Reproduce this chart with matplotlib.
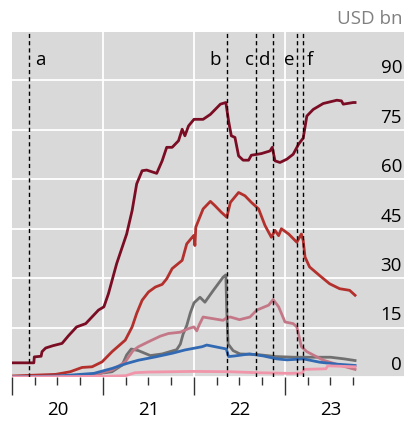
import matplotlib
matplotlib.use("Agg")
import matplotlib.pyplot as plt
import matplotlib.transforms as mtransforms

plt.rcParams['font.family'] = ['Open Sans', 'DejaVu Sans']

# series (x in fractional years, USD bn)
maroon_t = [2020.0, 2020.24, 2020.245, 2020.32, 2020.33, 2020.37, 2020.45, 2020.55, 2020.62, 2020.71,
            2020.81, 2020.95, 2021.01, 2021.06, 2021.15, 2021.26, 2021.32, 2021.37, 2021.43, 2021.48,
            2021.59, 2021.65, 2021.70, 2021.76, 2021.83, 2021.87, 2021.90, 2021.94, 2022.0, 2022.10,
            2022.18, 2022.29, 2022.35, 2022.38, 2022.41, 2022.45, 2022.49, 2022.54, 2022.60, 2022.63,
            2022.74, 2022.835, 2022.86, 2022.89, 2022.945, 2023.02, 2023.09, 2023.15, 2023.20, 2023.24,
            2023.31, 2023.42, 2023.57, 2023.62, 2023.64, 2023.75, 2023.77]
maroon_v = [4.3, 4.3, 6.1, 6.3, 7.7, 8.8, 9.5, 10.2, 12.5, 15.2,
            16.2, 20.3, 21.3, 25.3, 34.4, 43.4, 50.5, 58.6, 62.6, 62.8,
            61.8, 65.6, 69.7, 69.7, 71.7, 75.2, 73.2, 76.2, 78.2, 78.2,
            79.7, 82.8, 83.3, 77.7, 73.2, 72.7, 67.1, 65.8, 65.8, 67.3,
            67.8, 68.6, 69.7, 65.6, 65.1, 66.1, 67.6, 70.7, 72.5, 79.2,
            81.2, 83.0, 84.0, 83.8, 82.8, 83.3, 83.3]

red_t = [2020.0, 2020.48, 2020.64, 2020.77, 2020.88, 2020.99, 2021.10, 2021.245, 2021.32, 2021.37,
         2021.43, 2021.50, 2021.575, 2021.65, 2021.70, 2021.76, 2021.87, 2021.92, 2021.98, 2022.0,
         2022.01, 2022.02, 2022.10, 2022.18, 2022.23, 2022.30, 2022.36, 2022.40, 2022.43, 2022.49,
         2022.56, 2022.63, 2022.71, 2022.78, 2022.85, 2022.89, 2022.93, 2022.96, 2023.04, 2023.13,
         2023.18, 2023.20, 2023.22, 2023.27, 2023.38, 2023.49, 2023.60, 2023.71, 2023.77]
red_v = [0.3, 0.8, 1.6, 2.9, 3.1, 4.6, 7.7, 11.2, 15.2, 19.3,
         23.3, 25.8, 27.3, 28.1, 29.8, 32.9, 35.4, 40.4, 42.4, 43.0,
         39.9, 45.5, 51.0, 53.3, 52.0, 50.0, 48.5, 53.0, 54.0, 56.0,
         55.0, 53.0, 51.0, 46.0, 42.4, 44.5, 42.9, 45.0, 43.4, 40.9,
         43.4, 41.4, 36.4, 33.4, 30.8, 28.3, 26.8, 26.3, 24.8]

grey_t = [2020.0, 2020.7, 2020.9, 2021.10, 2021.21, 2021.26, 2021.31, 2021.39, 2021.52, 2021.65,
          2021.81, 2021.85, 2021.88, 2021.92, 2021.96, 2022.0, 2022.066, 2022.12, 2022.21, 2022.32,
          2022.35, 2022.36, 2022.375, 2022.43, 2022.505, 2022.70, 2022.90, 2023.10, 2023.30, 2023.50,
          2023.65, 2023.77]
grey_v = [0.0, 0.3, 0.8, 1.6, 3.6, 6.7, 8.5, 8.0, 6.5, 7.0,
          8.3, 10.0, 13.0, 15.6, 19.5, 22.5, 24.2, 22.7, 26.2, 30.3,
          31.0, 20.0, 10.0, 8.0, 7.0, 6.8, 6.2, 6.0, 6.0, 6.0,
          5.5, 5.0]

mauve_t = [2020.0, 2020.8, 2020.9, 2021.10, 2021.245, 2021.33, 2021.39, 2021.50, 2021.63, 2021.72,
           2021.85, 2021.94, 2022.0, 2022.03, 2022.06, 2022.10, 2022.21, 2022.32, 2022.36, 2022.40,
           2022.50, 2022.615, 2022.69, 2022.82, 2022.87, 2022.93, 2023.0, 2023.09, 2023.13, 2023.18,
           2023.24, 2023.42, 2023.60, 2023.77]
mauve_v = [0.0, 0.2, 0.6, 2.1, 4.6, 8.0, 9.2, 10.7, 12.4, 13.2,
           13.6, 14.7, 15.2, 14.0, 16.0, 18.2, 17.7, 17.2, 18.0, 18.2,
           17.4, 18.2, 20.3, 21.8, 23.5, 21.3, 16.7, 16.2, 15.2, 9.2,
           7.7, 5.1, 3.6, 2.3]

blue_t = [2020.0, 2020.5, 2020.9, 2021.10, 2021.26, 2021.39, 2021.575, 2021.76, 2021.90, 2022.09,
          2022.14, 2022.32, 2022.355, 2022.38, 2022.45, 2022.61, 2022.76, 2022.91, 2023.02, 2023.2,
          2023.38, 2023.57, 2023.77]
blue_v = [0.0, 0.3, 1.1, 2.6, 4.1, 5.1, 6.1, 7.2, 8.2, 9.2,
          9.7, 8.7, 8.5, 6.2, 6.4, 7.0, 6.4, 5.5, 5.2, 5.5,
          4.5, 3.9, 3.5]

pink_t = [2020.0, 2021.0, 2021.25, 2021.35, 2021.5, 2022.0, 2022.4, 2022.7, 2023.05, 2023.19,
          2023.21, 2023.45, 2023.47, 2023.77]
pink_v = [0.0, 0.2, 0.4, 1.3, 1.5, 1.7, 1.6, 1.3, 1.1, 1.2,
          2.3, 2.5, 3.4, 3.1]

# event markers
event_labels = ['a', 'b', 'c', 'd', 'e', 'f']
event_dates = [2020.19, 2022.359, 2022.685, 2022.868, 2023.129, 2023.198]
event_side = ['right', 'left', 'left', 'left', 'left', 'right']
event_gap = [4, 4, 1.5, 2, 1.5, 3]   # points between line and letter

yticks = [0, 15, 30, 45, 60, 75, 90]
years = [2020, 2021, 2022, 2023]
year_labels = ['20', '21', '22', '23']

fig = plt.figure(figsize=(4.04, 4.27), dpi=100)
ax = fig.add_axes([12 / 404, 49 / 427, 392 / 404, 345 / 427])
ax.set_facecolor('#d9d9d9')

ax.set_xlim(2020.0, 2020 + 392 / 91)
ax.set_ylim(0, 104.7)

for v in yticks:
    ax.axhline(v, color='white', lw=1.3, zorder=1)
for y in years[1:]:
    ax.axvline(y, color='white', lw=1.3, zorder=1)

lw = 2.0
ax.plot(maroon_t, maroon_v, color='#7a0c24', lw=lw, zorder=3)
ax.plot(red_t, red_v, color='#b3302c', lw=lw, zorder=3)
ax.plot(grey_t, grey_v, color='#707070', lw=lw, zorder=3)
ax.plot(mauve_t, mauve_v, color='#c47887', lw=lw, zorder=3)
ax.plot(blue_t, blue_v, color='#3169b3', lw=lw, zorder=3)
ax.plot(pink_t, pink_v, color='#f196aa', lw=lw, zorder=3)

for lab, d, side, gap in zip(event_labels, event_dates, event_side, event_gap):
    ax.axvline(d, color='black', lw=1.0, ls=(0, (3, 2.2)), zorder=4)
    if side == 'right':
        off, ha = gap, 'left'
    else:
        off, ha = -gap, 'right'
    ax.annotate(lab, xy=(d, 96.5), xytext=(off, 0), textcoords='offset points',
                ha=ha, va='center', fontsize=13.5, color='black')

trans = mtransforms.blended_transform_factory(ax.transAxes, ax.transData)
for v in yticks:
    ax.text(0.995, v + 4, str(v), transform=trans, ha='right', va='center',
            fontsize=13.5, color='black')

ax.text(0.995, 1.04, 'USD bn', transform=ax.transAxes, ha='right', va='center',
        fontsize=13.5, color='#808080')

for s in ax.spines.values():
    s.set_visible(False)
ax.set_yticks([])

major = years
minor = [y + q for y in years for q in (0.25, 0.5, 0.75)]
ax.set_xticks(major)
ax.set_xticks(minor, minor=True)
ax.tick_params(axis='x', which='major', length=13, width=1, color='#333333', labelbottom=False, pad=0)
ax.tick_params(axis='x', which='minor', length=6, width=1, color='#333333', labelbottom=False)

xtrans = mtransforms.blended_transform_factory(ax.transData, ax.transAxes)
for y, lab in zip(years, year_labels):
    ax.text(y + 0.5, -0.093, lab, transform=xtrans, ha='center', va='center',
            fontsize=13.5, color='black')

fig.savefig('out.png', dpi=100)
